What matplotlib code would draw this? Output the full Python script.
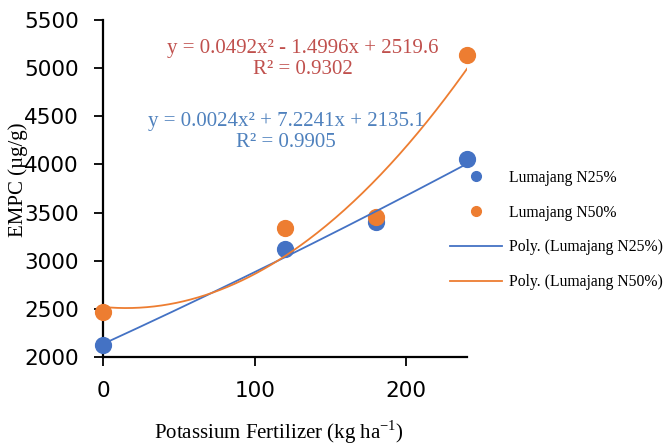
import numpy as np
import matplotlib.pyplot as plt
from matplotlib.lines import Line2D

# data
k_rate = [0, 120, 180, 240]
n25 = [2125, 3125, 3406, 4052]
n50 = [2472, 3344, 3458, 5139]

# trendline coefficients (as printed on the chart)
coef_n25 = [0.0024, 7.2241, 2135.1]
coef_n50 = [0.0492, -1.4996, 2519.6]

eq_n25 = "y = 0.0024x² + 7.2241x + 2135.1\nR² = 0.9905"
eq_n50 = "y = 0.0492x² - 1.4996x + 2519.6\nR² = 0.9302"

blue = '#4472C4'
orange = '#ED7D31'

plt.rcParams['mathtext.fontset'] = 'custom'
plt.rcParams['mathtext.rm'] = 'Liberation Serif'

fig = plt.figure(figsize=(6.65, 4.45), dpi=100)
ax = fig.add_axes([0.1549, 0.1978, 0.5474, 0.7573])

ax.scatter(k_rate, n25, s=130, color=blue, zorder=3, clip_on=False)
ax.scatter(k_rate, n50, s=130, color=orange, zorder=3, clip_on=False)

xs = np.linspace(0, 240, 200)
ax.plot(xs, np.polyval(coef_n25, xs), color=blue, lw=1.3, zorder=4)
ax.plot(xs, np.polyval(coef_n50, xs), color=orange, lw=1.3, zorder=4)

ax.set_xlim(0, 240)
ax.set_ylim(2000, 5500)
ax.set_xticks([0, 100, 200])
ax.set_yticks(np.arange(2000, 5501, 500))
for s in ['top', 'right']:
    ax.spines[s].set_visible(False)
for s in ['left', 'bottom']:
    ax.spines[s].set_linewidth(1.6)
ax.tick_params(length=6.5, width=1.3, pad=11, labelsize=15.5)
for lab in ax.get_xticklabels() + ax.get_yticklabels():
    lab.set_fontfamily('DejaVu Sans')

fig.text(18 / 665, 1 - 180 / 445, 'EMPC (µg/g)', rotation=90, ha='center', va='center',
         family='Liberation Serif', fontsize=15)
fig.text(279 / 665, 1 - 432 / 445, 'Potassium Fertilizer (kg ha$^{\\mathregular{-1}}$)',
         ha='center', va='center', family='Liberation Serif', fontsize=15)

fig.text(303 / 665, 1 - 59 / 445, eq_n50, ha='center', va='center', multialignment='center',
         family='Liberation Serif', fontsize=15, color='#C0504D', linespacing=1.2)
fig.text(286 / 665, 1 - 132 / 445, eq_n25, ha='center', va='center', multialignment='center',
         family='Liberation Serif', fontsize=15, color='#4F81BD', linespacing=1.2)

handles = [
    Line2D([], [], ls='none', marker='o', ms=7, color=blue),
    Line2D([], [], ls='none', marker='o', ms=7, color=orange),
    Line2D([], [], color=blue, lw=1.3),
    Line2D([], [], color=orange, lw=1.3),
]
labels = ['Lumajang N25%', 'Lumajang N50%', 'Poly. (Lumajang N25%)', 'Poly. (Lumajang N50%)']
fig.legend(handles, labels, loc='center left', bbox_to_anchor=(450 / 665, 1 - 230 / 445),
           frameon=False, borderpad=0, borderaxespad=0, handlelength=3.3, handletextpad=0.45,
           labelspacing=1.2, prop={'family': 'Liberation Serif', 'size': 11.3})

fig.savefig('out.png', dpi=100)
